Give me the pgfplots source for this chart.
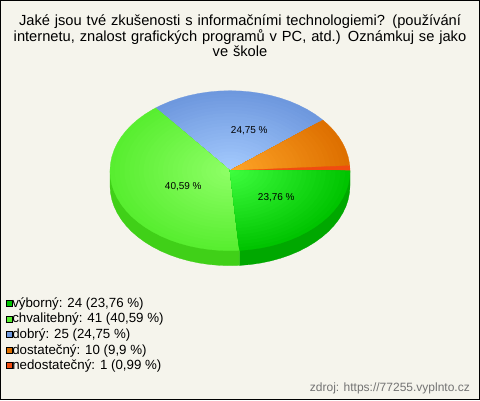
\documentclass[border=0pt]{standalone}
\usepackage{fontspec}
\setmainfont{Liberation Sans}
\usepackage{pgfplots}
\usepackage{pgfplotstable}
\pgfplotsset{compat=1.18}
\definecolor{bg}{HTML}{F5F4EC}
\definecolor{aR}{HTML}{00C400}\definecolor{aC}{HTML}{40FF40}\definecolor{aW}{HTML}{00A800}
\definecolor{bR}{HTML}{58EE30}\definecolor{bC}{HTML}{90FF68}\definecolor{bW}{HTML}{40D018}
\definecolor{cR}{HTML}{6E98DE}\definecolor{cC}{HTML}{A6CCFF}
\definecolor{dR}{HTML}{DE7000}\definecolor{dC}{HTML}{FFA628}
\definecolor{eR}{HTML}{F04C10}
\pgfplotstableread{
x y
0 0
120 0
119.54 -6.97
118.18 -13.89
115.91 -20.71
112.76 -27.36
108.76 -33.81
103.92 -40
98.30 -45.89
91.92 -51.42
84.85 -56.57
77.13 -61.28
68.83 -65.53
60 -69.28
50.71 -72.5
41.04 -75.18
31.06 -77.27
20.84 -78.78
10.46 -79.7
9.42 -79.75
}\wedgeA
\pgfplotstableread{
x y
0 0
9.42 -79.75
0 -80
-10.46 -79.7
-20.84 -78.78
-31.06 -77.27
-41.04 -75.18
-50.71 -72.5
-60 -69.28
-68.83 -65.53
-77.13 -61.28
-84.85 -56.57
-91.92 -51.42
-98.3 -45.89
-103.92 -40
-108.76 -33.81
-112.76 -27.36
-115.91 -20.71
-118.18 -13.89
-119.54 -6.97
-120 0
-119.54 6.97
-118.18 13.89
-115.91 20.71
-112.76 27.36
-108.76 33.81
-103.92 40
-98.3 45.89
-91.92 51.42
-84.85 56.57
-77.13 61.28
-74.4 62.75
}\wedgeB
\pgfplotstableread{
x y
0 0
-74.4 62.75
-68.83 65.53
-60 69.28
-50.71 72.5
-41.04 75.18
-31.06 77.27
-20.84 78.78
-10.46 79.7
0 80
10.46 79.7
20.84 78.78
31.06 77.27
41.04 75.18
50.71 72.5
60 69.28
68.83 65.53
77.13 61.28
84.85 56.57
91.92 51.42
92.9 50.6
}\wedgeC
\pgfplotstableread{
x y
0 0
92.9 50.6
98.3 45.89
103.92 40
108.76 33.81
112.76 27.36
115.91 20.71
118.18 13.89
119.54 6.97
119.76 5.02
}\wedgeD
\pgfplotstableread{
x y
0 0
119.76 5.02
120 0
}\wedgeE
\pgfplotstableread{
x y
0 0
120 0
120 -15
119.54 -21.97
118.18 -28.89
115.91 -35.71
112.76 -42.36
108.76 -48.81
103.92 -55
98.3 -60.89
91.92 -66.42
84.85 -71.57
77.13 -76.28
68.83 -80.53
60 -84.28
50.71 -87.5
41.04 -90.18
31.06 -92.27
20.84 -93.78
10.46 -94.7
9.42 -94.75
9.42 -79.75
}\wallA
\pgfplotstableread{
x y
0 0
9.42 -79.75
9.42 -94.75
0 -95
-10.46 -94.7
-20.84 -93.78
-31.06 -92.27
-41.04 -90.18
-50.71 -87.5
-60 -84.28
-68.83 -80.53
-77.13 -76.28
-84.85 -71.57
-91.92 -66.42
-98.3 -60.89
-103.92 -55
-108.76 -48.81
-112.76 -42.36
-115.91 -35.71
-118.18 -28.89
-119.54 -21.97
-120 -15
-120 0
}\wallB
\newcommand{\piewedge}[3]{%
  \pgfplotsinvokeforeach{100,96,...,4}{%
    \addplot[forget plot,mark=none,line width=.25pt,draw=#2!##1!#3,fill=#2!##1!#3]
      table[x expr=\thisrow{x}*##1/100,y expr=\thisrow{y}*##1/100]{#1} -- cycle;
  }%
}
\begin{document}
\begin{tikzpicture}
\begin{axis}[
  scale only axis,width=480pt,height=400pt,
  xmin=-230,xmax=250,ymin=-229.3,ymax=170.7,
  hide axis,clip=false,
  legend image code/.code={\draw[#1,draw=black,line width=.8pt] (0pt,-3pt) rectangle (6pt,3pt);},
  legend cell align=left,
  legend style={at={(axis cs:-224.5,-125.6)},anchor=north west,draw=none,fill=none,
    font=\fontsize{13.3}{15}\selectfont,inner sep=0pt,outer sep=0pt,
    row sep=1.6pt,nodes={inner sep=0pt,text depth=3pt,text height=11pt}},
]
\fill[bg,draw=black,line width=1pt] (axis cs:-229.5,-228.8) rectangle (axis cs:249.5,170.2);
\addplot[forget plot,mark=none,draw=aW,fill=aW,line width=.25pt] table {\wallA} -- cycle;
\addplot[forget plot,mark=none,draw=bW,fill=bW,line width=.25pt] table {\wallB} -- cycle;
\piewedge{\wedgeC}{cR}{cC}
\piewedge{\wedgeD}{dR}{dC}
\addplot[forget plot,mark=none,draw=eR,fill=eR,line width=.25pt] table {\wedgeE} -- cycle;
\piewedge{\wedgeB}{bR}{bC}
\piewedge{\wedgeA}{aR}{aC}
\addlegendimage{fill=aR}\addlegendentry{výborný: 24 (23,76 \%)}
\addlegendimage{fill=bR}\addlegendentry{chvalitebný: 41 (40,59 \%)}
\addlegendimage{fill=cR}\addlegendentry{dobrý: 25 (24,75 \%)}
\addlegendimage{fill=dR}\addlegendentry{dostatečný: 10 (9,9 \%)}
\addlegendimage{fill=eR}\addlegendentry{nedostatečný: 1 (0,99 \%)}
\node[font=\fontsize{10}{12}\selectfont] at (axis cs:19.3,39.7) {24,75 \%};
\node[font=\fontsize{10}{12}\selectfont] at (axis cs:-46.7,-16.3) {40,59 \%};
\node[font=\fontsize{10}{12}\selectfont] at (axis cs:46.3,-26.6) {23,76 \%};
\node[font=\fontsize{14.67}{15.7}\selectfont,align=center,text width=470pt] at (axis cs:10,135) {Jaké jsou tvé zkušenosti s informačními technologiemi? (používání\\internetu, znalost grafických programů v PC, atd.) Oznámkuj se jako\\ve škole};
\node[font=\fontsize{12}{14}\selectfont,text=black!55,anchor=east,inner sep=0pt] at (axis cs:240,-217.3) {zdroj: https://77255.vyplnto.cz};
\end{axis}
\end{tikzpicture}
\end{document}
